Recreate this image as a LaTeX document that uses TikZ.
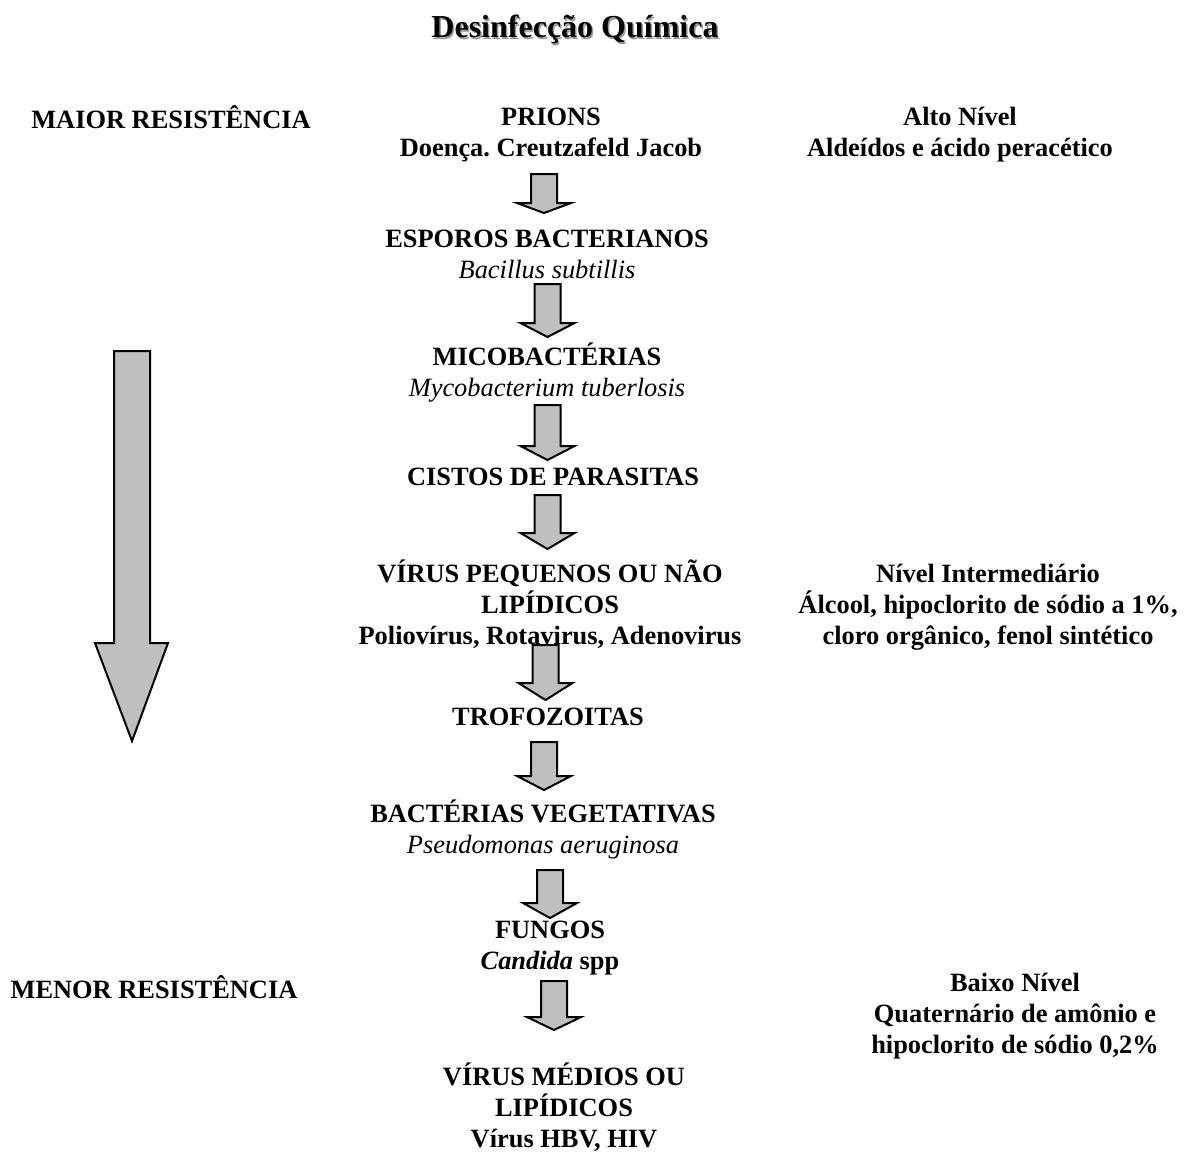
\documentclass[tikz,border=0pt]{standalone}
\usepackage{fontspec}
\setmainfont{Liberation Serif}
\frenchspacing

\tikzset{
  txt/.style={align=center,inner sep=0pt,font=\fontsize{13.2}{15.5}\selectfont\bfseries},
  blk/.style={draw=black,line width=1pt,fill=black!25,line join=miter},
}
% block arrow: x, top, neck, tip
\newcommand{\blockarrow}[4]{\draw[blk](#1-13,#2)--(#1+13,#2)--(#1+13,#3)--(#1+27,#3)--(#1,#4)--(#1-27,#3)--(#1-13,#3)--cycle;}
\newcommand{\spname}[1]{{\mdseries\itshape #1}}

\begin{document}
\begin{tikzpicture}[x=0.5pt,y=-0.5pt]
\useasboundingbox(0,0)rectangle(1192,1153);
% title
\node[inner sep=0pt,font=\fontsize{16}{19}\selectfont\bfseries,text=black!40](titleshadow)at(576.5,31.5){Desinfecção Química};
\node[inner sep=0pt,font=\fontsize{16}{19}\selectfont\bfseries](title)at(575,30){Desinfecção Química};
% left side
\node[txt](maior)at(171,117){MAIOR RESISTÊNCIA};
\node[txt](menor)at(154,987){MENOR RESISTÊNCIA};
\draw[blk](114,351)--(150,351)--(150,643)--(168,643)--(132,741)--(95,643)--(114,643)--cycle;
% middle column
\node[txt](prions)at(551,135){PRIONS\\Doença. Creutzafeld Jacob};
\node[txt](esporos)at(547,254){ESPOROS BACTERIANOS\\\spname{Bacillus subtillis}};
\node[txt](mico)at(547,372.5){MICOBACTÉRIAS\\\spname{Mycobacterium tuberlosis}};
\node[txt](cistos)at(553,477){CISTOS DE PARASITAS};
\node[txt](virusp)at(550,604.5){VÍRUS PEQUENOS OU NÃO\\LIPÍDICOS\\Poliovírus, Rotavirus, Adenovirus};
\node[txt](trofo)at(548,717){TROFOZOITAS};
\node[txt](bact)at(543,829){BACTÉRIAS VEGETATIVAS\\\spname{Pseudomonas aeruginosa}};
\node[txt](fungos)at(550,948.5){FUNGOS\\\textit{Candida} spp};
\node[txt](virusm)at(564,1107.5){VÍRUS MÉDIOS OU\\LIPÍDICOS\\Vírus HBV, HIV};
\blockarrow{544}{174}{203}{213}
\blockarrow{547.5}{284}{323}{337}
\blockarrow{547.5}{405}{446}{460}
\blockarrow{547.5}{495}{533}{549}
\blockarrow{545.5}{645}{683}{700}
\blockarrow{544}{742}{776}{790}
\blockarrow{550}{870}{903}{918}
\blockarrow{554}{981}{1017}{1030}
% right side
\node[txt](alto)at(960,135){Alto Nível\\Aldeídos e ácido peracético};
\node[txt](inter)at(988,607){Nível Intermediário\\Álcool, hipoclorito de sódio a 1\%,\\cloro orgânico, fenol sintético};
\node[txt](baixo)at(1015,1016){Baixo Nível\\Quaternário de amônio e\\hipoclorito de sódio 0,2\%};
\end{tikzpicture}
\end{document}
